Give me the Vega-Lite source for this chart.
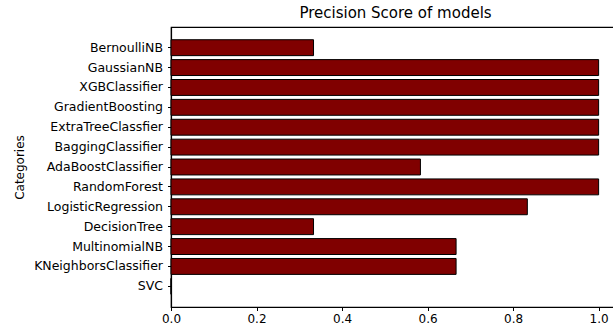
{
  "$schema": "https://vega.github.io/schema/vega-lite/v6.json",
  "autosize": "none",
  "padding": {"left": 171, "top": 27, "right": 0, "bottom": 20},
  "width": 449,
  "height": 280,
  "background": "white",
  "config": {
    "font": "DejaVu Sans",
    "view": {"stroke": "black", "strokeWidth": 1.2},
    "axis": {"grid": false, "domainColor": "black", "tickColor": "black", "labelColor": "black", "titleColor": "black", "labelFont": "DejaVu Sans", "titleFont": "DejaVu Sans", "tickSize": 3.5, "domainWidth": 1.2, "tickWidth": 1}
  },
  "title": {"text": "Precision Score of models", "fontSize": 15, "fontWeight": "normal", "font": "DejaVu Sans", "color": "black", "anchor": "middle", "offset": 6},
  "data": {
    "values": [
      {"model": "BernoulliNB", "precision": 0.3333},
      {"model": "GaussianNB", "precision": 1.0},
      {"model": "XGBClassifier", "precision": 1.0},
      {"model": "GradientBoosting", "precision": 1.0},
      {"model": "ExtraTreeClassfier", "precision": 1.0},
      {"model": "BaggingClassifier", "precision": 1.0},
      {"model": "AdaBoostClassifier", "precision": 0.5833},
      {"model": "RandomForest", "precision": 1.0},
      {"model": "LogisticRegression", "precision": 0.8333},
      {"model": "DecisionTree", "precision": 0.3333},
      {"model": "MultinomialNB", "precision": 0.6667},
      {"model": "KNeighborsClassifier", "precision": 0.6667},
      {"model": "SVC", "precision": 0.0}
    ]
  },
  "mark": {"type": "bar", "color": "#800000", "stroke": "black", "strokeWidth": 1},
  "encoding": {
    "y": {
      "field": "model", "type": "nominal", "sort": null,
      "scale": {"paddingInner": 0.2, "paddingOuter": 0.64},
      "axis": {"title": "Categories", "titleFontSize": 12, "titleFontWeight": "normal", "titlePadding": 7, "labelFontSize": 12.5, "labelPadding": 5}
    },
    "x": {
      "field": "precision", "type": "quantitative",
      "scale": {"domain": [0, 1.05], "nice": false, "zero": true},
      "axis": {"title": null, "values": [0, 0.2, 0.4, 0.6, 0.8, 1.0], "format": ".1f", "labelFontSize": 12, "labelPadding": 3, "labelFlush": false}
    }
  }
}
